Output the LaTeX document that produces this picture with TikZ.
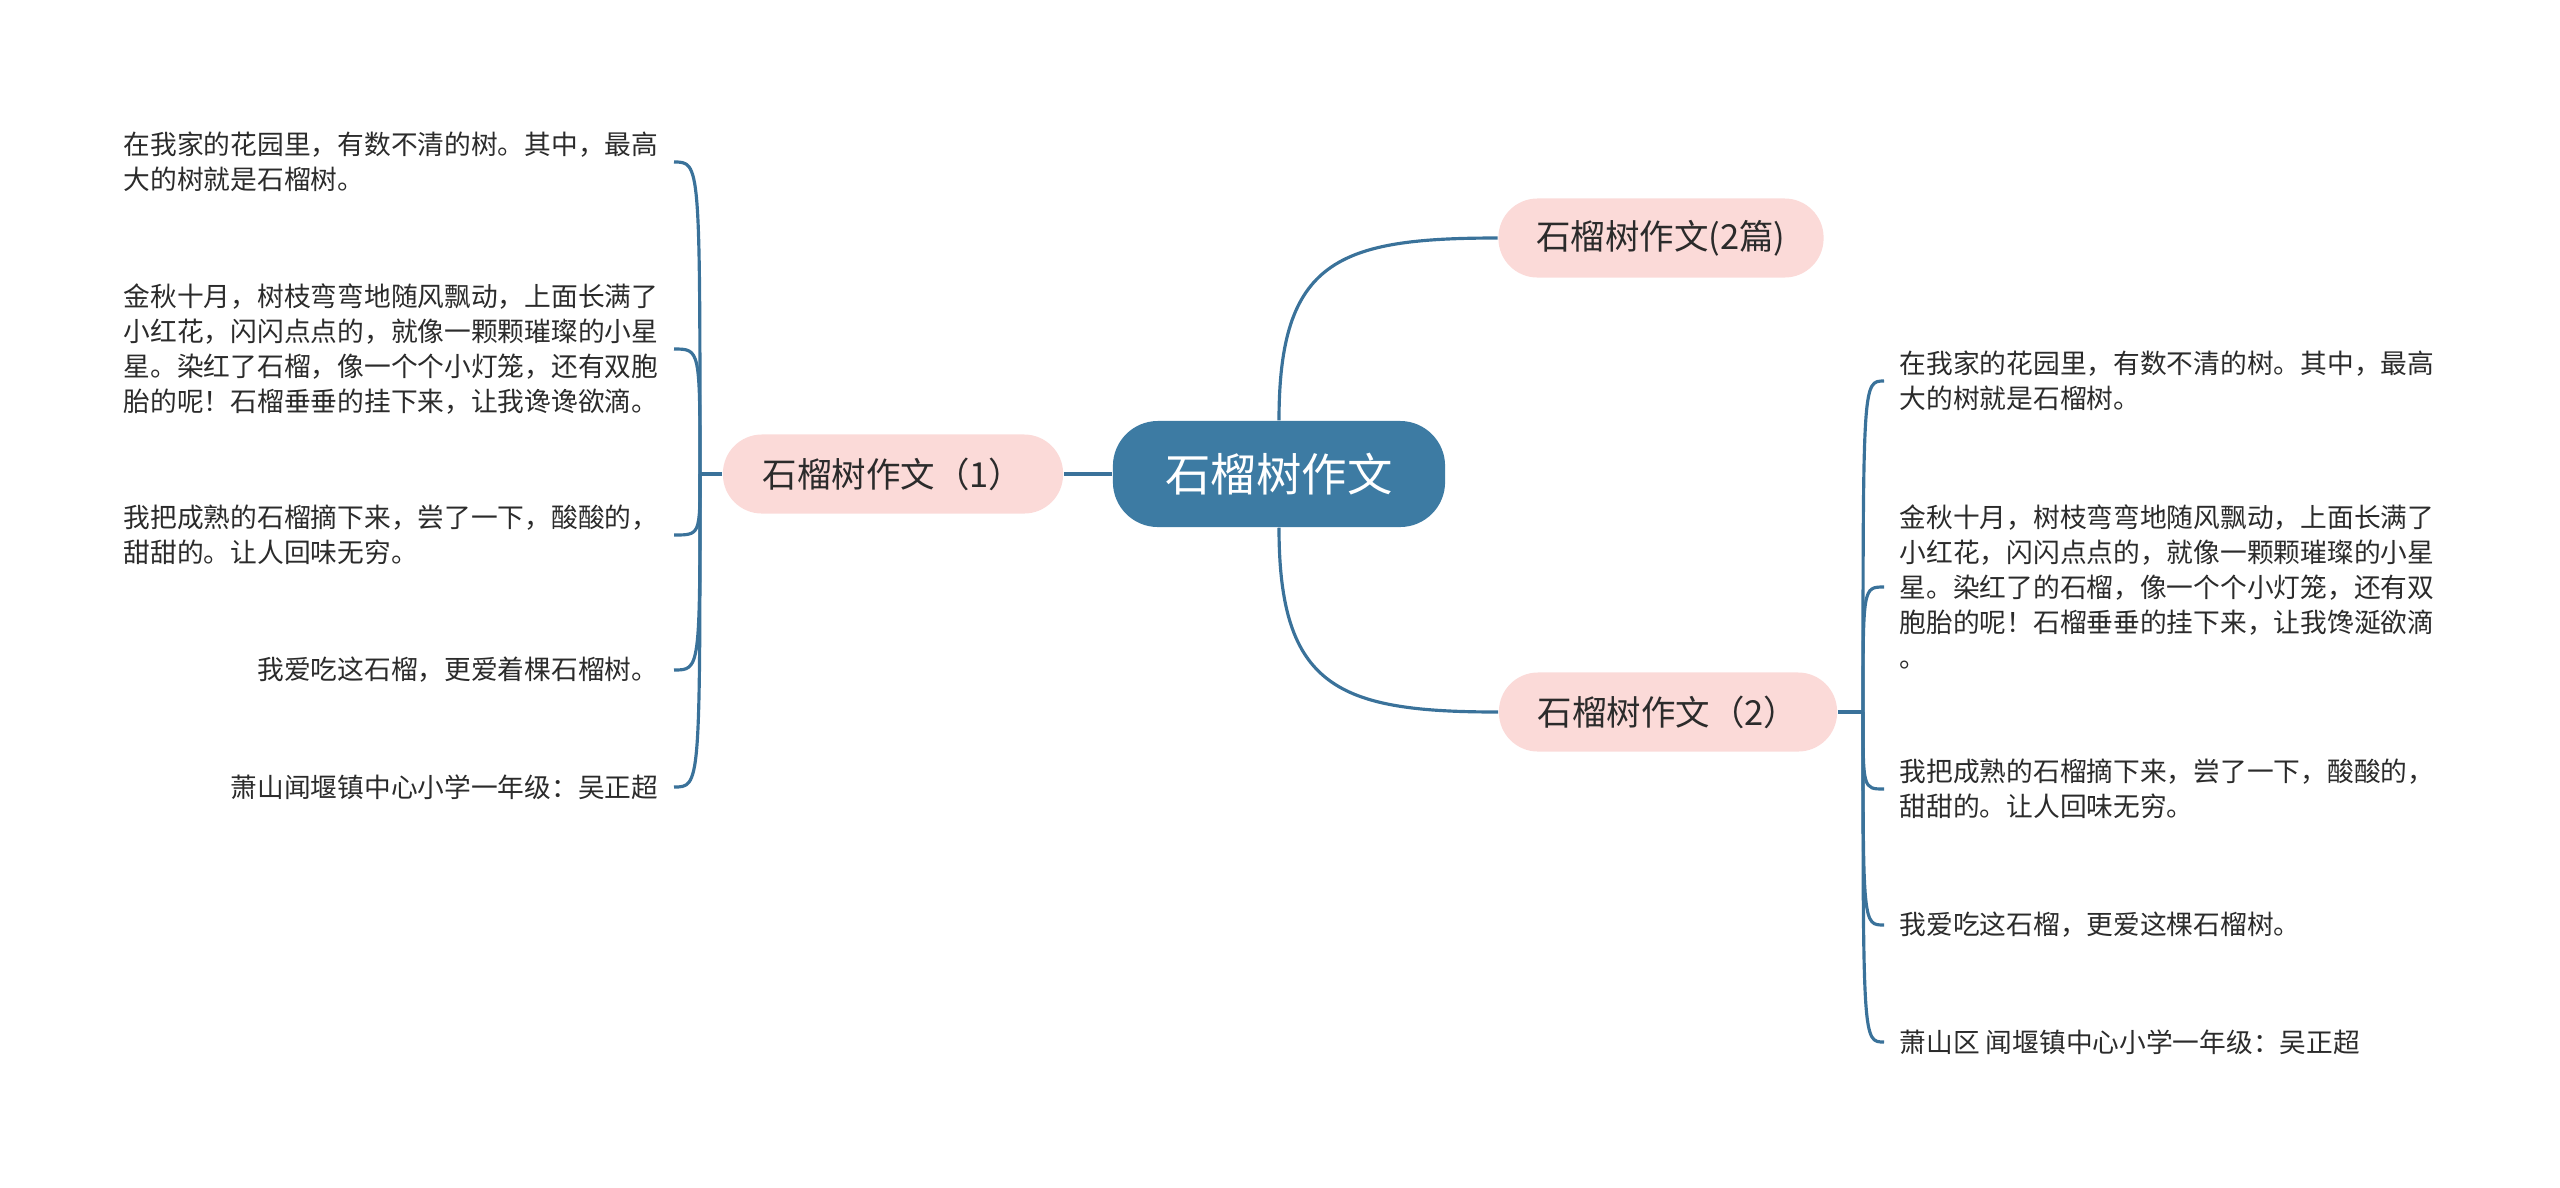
\documentclass[tikz,border=0pt]{standalone}
\usepackage{fontspec}
\setmainfont{Noto Sans CJK SC}
\usetikzlibrary{positioning}
\definecolor{topicblue}{HTML}{3D7BA3}
\definecolor{branchpink}{HTML}{FBDAD8}
\definecolor{linkblue}{HTML}{3A729A}
\definecolor{textgray}{HTML}{2B2B2B}

\begin{document}
\begin{tikzpicture}[x=0.01cm, y=-0.01cm,
  root/.style={fill=topicblue, text=white, rounded corners=0.45cm, minimum width=3.32cm, minimum height=1.06cm, font=\fontsize{12.9pt}{15pt}\selectfont},
  branch/.style={fill=branchpink, text=textgray, rounded corners=0.39cm, minimum height=0.79cm, font=\fontsize{9.8pt}{12pt}\selectfont},
  leaf/.style={text=textgray, align=left, inner xsep=0.15cm, inner ysep=0pt, font=\fontsize{7.6pt}{9.9pt}\selectfont},
  link/.style={draw=linkblue, line width=0.9pt}]
\path[use as bounding box] (0,0) rectangle (2560,1187);
\node[root] (root) at (1279,474) {石榴树作文};
\node[branch, minimum width=3.4cm] (b1) at (893,474) {石榴树作文（1）};
\node[branch, minimum width=3.25cm] (b0) at (1661,238) {石榴树作文(2篇)};
\node[branch, minimum width=3.38cm] (b2) at (1668,712) {石榴树作文（2）};
\node[leaf, anchor=east] (l1) at (674,162) {在我家的花园里，有数不清的树。其中，最高\\大的树就是石榴树。};
\node[leaf, anchor=east] (l2) at (674,349) {金秋十月，树枝弯弯地随风飘动，上面长满了\\小红花，闪闪点点的，就像一颗颗璀璨的小星\\星。染红了石榴，像一个个小灯笼，还有双胞\\胎的呢！石榴垂垂的挂下来，让我谗谗欲滴。};
\node[leaf, anchor=east] (l3) at (674,535) {我把成熟的石榴摘下来，尝了一下，酸酸的，\\甜甜的。让人回味无穷。};
\node[leaf, anchor=east] (l4) at (674,670) {我爱吃这石榴，更爱着棵石榴树。};
\node[leaf, anchor=east] (l5) at (674,787) {萧山闻堰镇中心小学一年级：吴正超};
\node[leaf, anchor=west] (r1) at (1884,381) {在我家的花园里，有数不清的树。其中，最高\\大的树就是石榴树。};
\node[leaf, anchor=west] (r2) at (1884,587) {金秋十月，树枝弯弯地随风飘动，上面长满了\\小红花，闪闪点点的，就像一颗颗璀璨的小星\\星。染红了的石榴，像一个个小灯笼，还有双\\胞胎的呢！石榴垂垂的挂下来，让我馋涎欲滴\\。};
\node[leaf, anchor=west] (r3) at (1884,789) {我把成熟的石榴摘下来，尝了一下，酸酸的，\\甜甜的。让人回味无穷。};
\node[leaf, anchor=west] (r4) at (1884,925) {我爱吃这石榴，更爱这棵石榴树。};
\node[leaf, anchor=west] (r5) at (1884,1042) {萧山区 闻堰镇中心小学一年级：吴正超};
\coordinate (jl) at (700,474);
\coordinate (jr) at (1863,712);
\draw[link] (root.west) -- (b1.east);
\draw[link] (root.north) .. controls +(0,-160) and +(-160,0) .. (b0.west);
\draw[link] (root.south) .. controls +(0,160) and +(-160,0) .. (b2.west);
\draw[link] (b1.west) -- (jl);
\draw[link] (b2.east) -- (jr);
\foreach \n in {l1,l2,l3,l4,l5}
  \draw[link] (jl) .. controls (jl |- \n.east) .. (\n.east);
\foreach \n in {r1,r2,r3,r4,r5}
  \draw[link] (jr) .. controls (jr |- \n.west) .. (\n.west);
\end{tikzpicture}
\end{document}
